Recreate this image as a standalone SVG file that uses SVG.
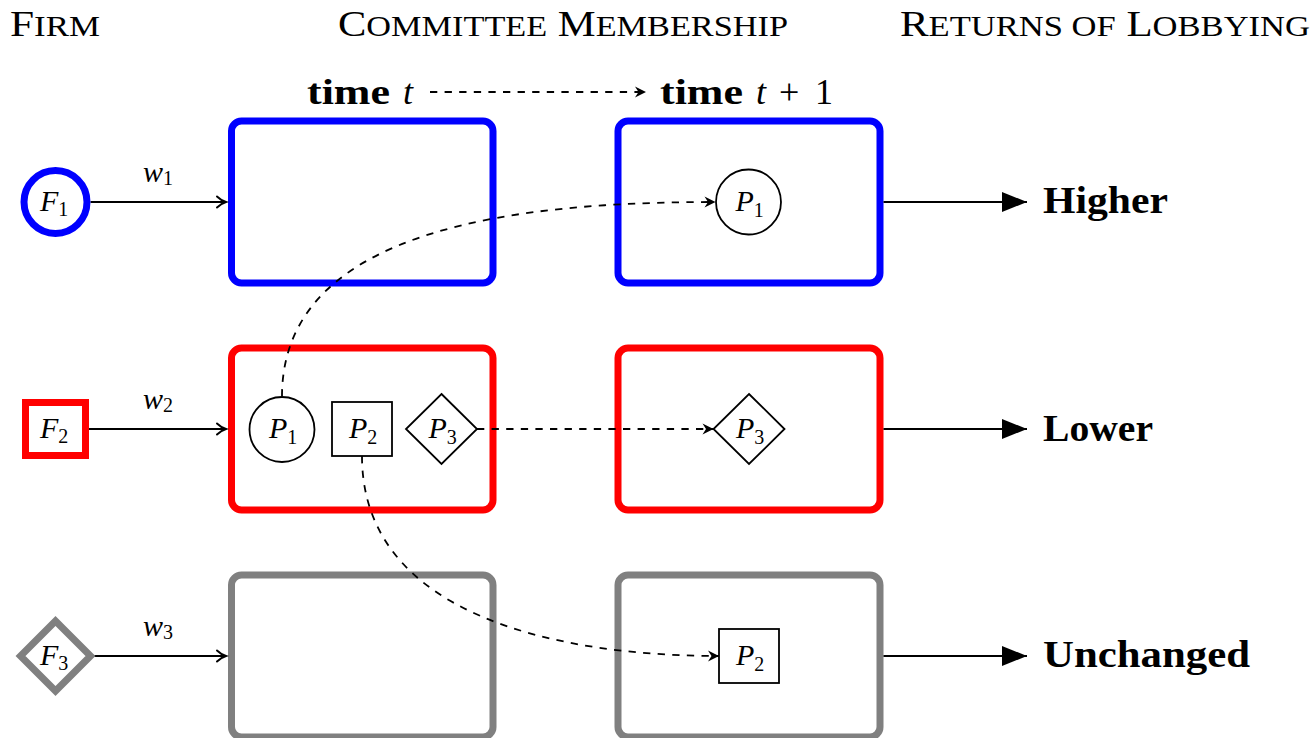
<svg xmlns="http://www.w3.org/2000/svg" width="1314" height="738" viewBox="0 0 1314 738">
<style>
text { font-family: "Liberation Serif", "DejaVu Serif", serif; fill: #000; }
.hdr { font-size: 36px; }
.sc { font-size: 29px; }
.bold { font-weight: bold; font-size: 37px; }
.time { font-weight: bold; font-size: 36px; }
.mi { font-style: italic; font-size: 36px; }
.m { font-style: italic; font-size: 30px; }
.sub { font-style: normal; font-size: 20px; }
.box { fill: none; stroke-width: 7; }
.blue { stroke: #0000FF; }
.red { stroke: #FF0000; }
.gray { stroke: #808080; }
.pn { fill: #fff; stroke: #000; stroke-width: 1.8; }
.fn { fill: #fff; stroke-width: 7; }
.solid { fill: none; stroke: #000; stroke-width: 1.9; }
.dash { fill: none; stroke: #000; stroke-width: 1.8; stroke-dasharray: 7.3 7.3; }
</style>
<defs>
<marker id="arrTo" markerUnits="userSpaceOnUse" markerWidth="16" markerHeight="16" viewBox="-13 -8 16 16" refX="0" refY="0" orient="auto">
<path d="M-9,-5.5 C-6,-2.5 -2.5,-0.8 0,0 C-2.5,0.8 -6,2.5 -9,5.5" fill="none" stroke="#000" stroke-width="1.9" stroke-linecap="round"/>
</marker>
<marker id="dart" markerUnits="userSpaceOnUse" markerWidth="16" markerHeight="16" viewBox="-13 -8 16 16" refX="0" refY="0" orient="auto">
<path d="M0,0 L-11,-5.5 L-7.5,0 L-11,5.5 Z" fill="#000"/>
</marker>
<marker id="latex" markerUnits="userSpaceOnUse" markerWidth="30" markerHeight="24" viewBox="-27 -12 30 24" refX="0" refY="0" orient="auto">
<path d="M0,0 L-25,-10 L-25,10 Z" fill="#000"/>
</marker>
</defs>
<rect width="1314" height="738" fill="#fff"/>

<g id="headers">
<text class="hdr" x="10" y="36" textLength="90" lengthAdjust="spacingAndGlyphs">F<tspan class="sc">IRM</tspan></text>
<text class="hdr" x="338" y="36" textLength="450" lengthAdjust="spacingAndGlyphs">C<tspan class="sc">OMMITTEE</tspan> M<tspan class="sc">EMBERSHIP</tspan></text>
<text class="hdr" x="900" y="36" textLength="410" lengthAdjust="spacingAndGlyphs">R<tspan class="sc">ETURNS OF</tspan> L<tspan class="sc">OBBYING</tspan></text>
<g id="time-t">
<text class="time" x="307" y="104" textLength="83" lengthAdjust="spacingAndGlyphs">time</text>
<text class="mi" x="403" y="104">t</text>
</g>
<g id="time-t1">
<text class="time" x="660" y="104" textLength="83" lengthAdjust="spacingAndGlyphs">time</text>
<text class="mi" x="756" y="104">t</text>
<text style="font-size:36px" x="779" y="104">+</text>
<text style="font-size:36px" x="815" y="104">1</text>
</g>
</g>

<g id="boxes">
<rect id="box-blue-t" class="box blue" x="231.5" y="121" width="261.5" height="162" rx="10"/>
<rect id="box-blue-t1" class="box blue" x="618" y="121" width="262" height="162" rx="10"/>
<rect id="box-red-t" class="box red" x="231.5" y="348" width="261.5" height="162" rx="10"/>
<rect id="box-red-t1" class="box red" x="618" y="348" width="262" height="162" rx="10"/>
<rect id="box-gray-t" class="box gray" x="231.5" y="575" width="261.5" height="162" rx="10"/>
<rect id="box-gray-t1" class="box gray" x="618" y="575" width="262" height="162" rx="10"/>
</g>

<g id="connectors">
<path class="dash" d="M430,92 L646,92" marker-end="url(#dart)"/>
<path class="solid" d="M90.5,202 L226,202" marker-end="url(#arrTo)"/>
<path class="solid" d="M89,429 L226,429" marker-end="url(#arrTo)"/>
<path class="solid" d="M93,656 L226,656" marker-end="url(#arrTo)"/>
<text class="m" x="143" y="182">w<tspan class="sub" dy="3">1</tspan></text>
<text class="m" x="143" y="409">w<tspan class="sub" dy="3">2</tspan></text>
<text class="m" x="143" y="636">w<tspan class="sub" dy="3">3</tspan></text>
<path class="dash" d="M282,396.5 C282,225 525,202 715.5,202" marker-end="url(#dart)"/>
<path class="dash" d="M477,429 L713.5,429" marker-end="url(#dart)"/>
<path class="dash" d="M362,456 C362,616 559,656 719,656" marker-end="url(#dart)"/>
<path class="solid" d="M883.5,202 L1027,202" marker-end="url(#latex)"/>
<path class="solid" d="M883.5,429 L1027,429" marker-end="url(#latex)"/>
<path class="solid" d="M883.5,656 L1027,656" marker-end="url(#latex)"/>
</g>

<g id="F1">
<circle class="fn blue" cx="55.5" cy="202" r="31.5"/>
<text class="m" x="40" y="211">F<tspan class="sub" dy="5">1</tspan></text>
</g>
<g id="F2">
<rect class="fn red" x="25.5" y="402.5" width="60" height="53"/>
<text class="m" x="40" y="438">F<tspan class="sub" dy="5">2</tspan></text>
</g>
<g id="F3">
<path class="fn gray" d="M55.5,621 L90.5,656 L55.5,691 L20.5,656 Z"/>
<text class="m" x="40" y="665">F<tspan class="sub" dy="5">3</tspan></text>
</g>

<g id="P1-t">
<circle class="pn" cx="282" cy="429.5" r="32.5"/>
<text class="m" x="269" y="438">P<tspan class="sub" dy="6">1</tspan></text>
</g>
<g id="P2-t">
<rect class="pn" x="332" y="402" width="60" height="54"/>
<text class="m" x="349" y="438">P<tspan class="sub" dy="6">2</tspan></text>
</g>
<g id="P3-t">
<path class="pn" d="M441.5,394 L477,429 L441.5,464 L406,429 Z"/>
<text class="m" x="428.5" y="438">P<tspan class="sub" dy="6">3</tspan></text>
</g>
<g id="P1-t1">
<circle class="pn" cx="748.5" cy="202" r="32.5"/>
<text class="m" x="735.5" y="211">P<tspan class="sub" dy="6">1</tspan></text>
</g>
<g id="P3-t1">
<path class="pn" d="M749,394 L784.5,429 L749,464 L713.5,429 Z"/>
<text class="m" x="736" y="438">P<tspan class="sub" dy="6">3</tspan></text>
</g>
<g id="P2-t1">
<rect class="pn" x="719" y="629" width="60" height="54"/>
<text class="m" x="736" y="665">P<tspan class="sub" dy="6">2</tspan></text>
</g>

<g id="outcomes">
<text class="bold" x="1043" y="213" textLength="125" lengthAdjust="spacingAndGlyphs">Higher</text>
<text class="bold" x="1043" y="441" textLength="110" lengthAdjust="spacingAndGlyphs">Lower</text>
<text class="bold" x="1043" y="667" textLength="207" lengthAdjust="spacingAndGlyphs">Unchanged</text>
</g>
</svg>
